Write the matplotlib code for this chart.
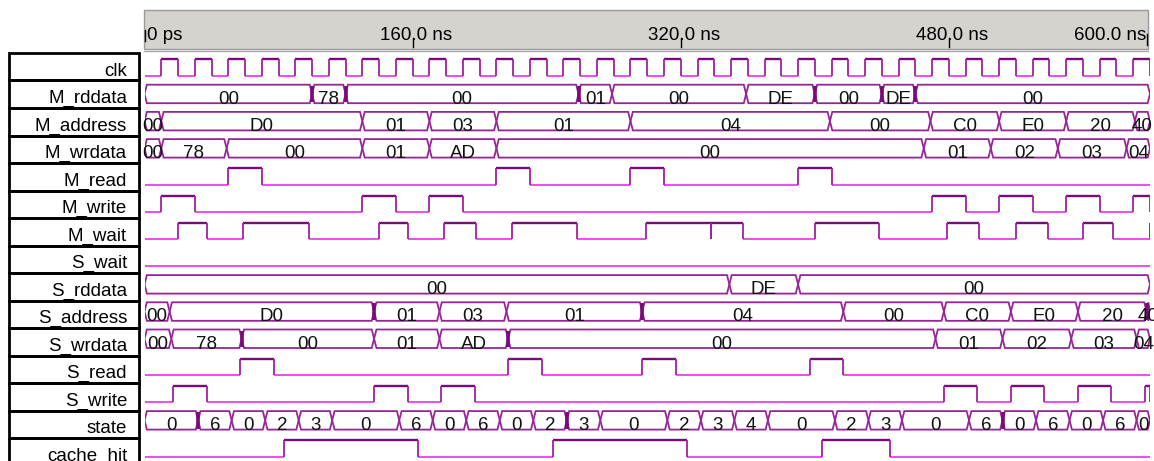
import matplotlib.pyplot as plt
from matplotlib.collections import LineCollection
from matplotlib.patches import Polygon, Rectangle

plt.rcParams["font.family"] = ["Liberation Sans", "DejaVu Sans"]

# ---- data (times in ns) ----
T_END = 600
ruler_ticks = [0, 160, 320, 480, 600]
ruler_labels = ["0 ps", "160.0 ns", "320.0 ns", "480.0 ns", "600.0 ns"]

signal_names = ["clk", "M_rddata", "M_address", "M_wrdata", "M_read", "M_write",
                "M_wait", "S_wait", "S_rddata", "S_address", "S_wrdata",
                "S_read", "S_write", "state", "cache_hit"]

clk_rise = [10, 30, 50, 70, 90, 110, 130, 150, 170, 190, 210, 230, 250, 270, 290,
            310, 330, 350, 370, 390, 410, 430, 450, 470, 490, 510, 530, 550, 570, 590]
clk_fall = [20, 40, 60, 80, 100, 120, 140, 160, 180, 200, 220, 240, 260, 280, 300,
            320, 340, 360, 380, 400, 420, 440, 460, 480, 500, 520, 540, 560, 580, 600]

M_read_high = [(50, 70), (210, 230), (290, 310), (390, 410)]
M_write_high = [(10, 30), (130, 150), (170, 190), (470, 490), (510, 530), (550, 570), (590, 600)]
M_wait_high = [(20, 37), (59, 98), (140, 157), (179, 198), (219, 258), (299, 338), (338, 357),
               (400, 438), (479, 498), (520, 539), (560, 578), (600, 600)]
S_wait_high = []
S_read_high = [(57, 77), (217, 237), (297, 317), (397, 417)]
S_write_high = [(17, 37), (137, 157), (177, 197), (477, 497), (517, 537), (557, 577), (597, 600)]
cache_hit_high = [(83, 163), (244, 324), (404, 445)]

M_rddata_t = [0, 100, 120, 259, 279, 359, 400, 440, 460, 600]
M_rddata_v = ["00", "78", "00", "01", "00", "DE", "00", "DE", "00"]
M_rddata_bold = [100, 120, 259, 400, 440, 460]

M_address_t = [0, 10, 130, 170, 210, 290, 409, 469, 510, 550, 591, 600]
M_address_v = ["00", "D0", "01", "03", "01", "04", "00", "C0", "E0", "20", "40"]

M_wrdata_t = [0, 10, 49, 130, 170, 210, 465, 505, 545, 586, 600]
M_wrdata_v = ["00", "78", "00", "01", "AD", "00", "01", "02", "03", "04"]

S_rddata_t = [0, 349, 390, 600]
S_rddata_v = ["00", "DE", "00"]

S_address_t = [0, 15, 137, 176, 216, 297, 417, 477, 517, 557, 598, 600]
S_address_v = ["00", "D0", "01", "03", "01", "04", "00", "C0", "E0", "20", "40"]
S_address_bold = [137, 297, 598]

S_wrdata_t = [0, 16, 58, 137, 176, 217, 472, 512, 553, 592, 600]
S_wrdata_v = ["00", "78", "00", "01", "AD", "00", "01", "02", "03", "04"]
S_wrdata_bold = [58, 217]

state_t = [0, 32, 52, 72, 92, 112, 152, 172, 192, 212, 232, 252, 272, 312, 332, 352,
           372, 412, 432, 452, 492, 512, 532, 552, 572, 592, 600]
state_v = ["0", "6", "0", "2", "3", "0", "6", "0", "6", "0", "2", "3", "0", "2", "3", "4",
           "0", "2", "3", "0", "6", "0", "6", "0", "6", "0"]
state_bold = [32, 252, 512]

# ---- styling ----
W, H = 1154, 461
LOW_C = "#f03cf0"
HIGH_C = "#7a0a7a"
EDGE_C = "#a0209f"
BUS_C = "#962596"
FS = 13.5

fig = plt.figure(figsize=(W / 100, H / 100), dpi=100)
ax_lab = fig.add_axes([0, 0, 1, 1])
ax_lab.set_xlim(0, W)
ax_lab.set_ylim(H, 0)
ax_lab.axis("off")

ax = fig.add_axes([144.5 / W, 0, (1150 - 144.5) / W, 1])
ax.set_xlim(0, T_END)
ax.set_ylim(H, 0)
ax.axis("off")


def row_ref(i):
    # y of the low level / bus bottom line for row i
    return 76 + 27.2 * i


# label column
for i, name in enumerate(signal_names):
    top = 53 + 27.5 * i
    ax_lab.add_patch(Rectangle((8.7, top), 130.6, 27.5, fill=False,
                               edgecolor="black", linewidth=2.0))
    ax_lab.text(127, top + 22.5, name, ha="right", va="baseline", fontsize=FS)

# time ruler
ax_lab.add_patch(Rectangle((143.5, 10), 1004.5, 39, facecolor="#d6d3ce",
                           edgecolor="#9a9a9a", linewidth=1))
ax_lab.plot([143.5, 1148], [51.5, 51.5], color="#a8a8a8", lw=1)
for t, lab in zip(ruler_ticks, ruler_labels):
    if t == 0:
        ax.plot([t, t], [30, 41], color="black", lw=1, clip_on=False)
        ax.text(t + 1.5, 39.5, lab, ha="left", va="baseline", fontsize=FS)
    elif t == T_END:
        ax.plot([t - 1.5, t - 1.5], [34, 45], color="black", lw=1, clip_on=False)
        ax.text(t - 2, 39.5, lab, ha="right", va="baseline", fontsize=FS)
    else:
        ax.plot([t, t], [38, 47], color="black", lw=1, clip_on=False)
        ax.text(t + 2.1, 39.5, lab, ha="center", va="baseline", fontsize=FS)


def draw_digital(i, highs):
    yl = row_ref(i)
    yh = yl - 16.5
    lows, his, edges = [], [], []
    t = 0
    for a, b in highs:
        lows.append([(t, yl), (a, yl)])
        edges.append([(a, yl), (a, yh)])
        his.append([(a, yh), (b, yh)])
        edges.append([(b, yh), (b, yl)])
        t = b
    lows.append([(t, yl), (T_END, yl)])
    ax.add_collection(LineCollection(lows, colors=LOW_C, linewidths=1.3))
    ax.add_collection(LineCollection(his, colors=HIGH_C, linewidths=1.7))
    ax.add_collection(LineCollection(edges, colors=EDGE_C, linewidths=1.3))


def draw_bus(i, times, values, bold=()):
    bot = row_ref(i)
    top = bot - 18.5
    mid = (top + bot) / 2
    for a, b, v in zip(times[:-1], times[1:], values):
        d = min(1.4, (b - a) / 2)
        pts = [(a, mid), (a + d, top), (b - d, top), (b, mid), (b - d, bot), (a + d, bot)]
        ax.add_patch(Polygon(pts, closed=True, fill=False, edgecolor=BUS_C, linewidth=1.3))
        txt = ax.text((a + b) / 2, bot + 0.5, v, ha="center", va="baseline",
                      fontsize=FS, color="#111111")
        txt.set_clip_path(Rectangle((a + d * 0.5, top - 3), b - a - d, bot - top + 8,
                                    transform=ax.transData))
    for t in bold:
        ax.plot([t, t], [top + 1, bot - 1], color="#7a0a7a", lw=2.6, solid_capstyle="butt")


clk_high = list(zip(clk_rise, clk_fall))
draw_digital(0, clk_high)
draw_bus(1, M_rddata_t, M_rddata_v, M_rddata_bold)
draw_bus(2, M_address_t, M_address_v)
draw_bus(3, M_wrdata_t, M_wrdata_v)
draw_digital(4, M_read_high)
draw_digital(5, M_write_high)
draw_digital(6, M_wait_high)
draw_digital(7, S_wait_high)
draw_bus(8, S_rddata_t, S_rddata_v)
draw_bus(9, S_address_t, S_address_v, S_address_bold)
draw_bus(10, S_wrdata_t, S_wrdata_v, S_wrdata_bold)
draw_digital(11, S_read_high)
draw_digital(12, S_write_high)
draw_bus(13, state_t, state_v, state_bold)
draw_digital(14, cache_hit_high)

fig.savefig("out.png", dpi=100)
